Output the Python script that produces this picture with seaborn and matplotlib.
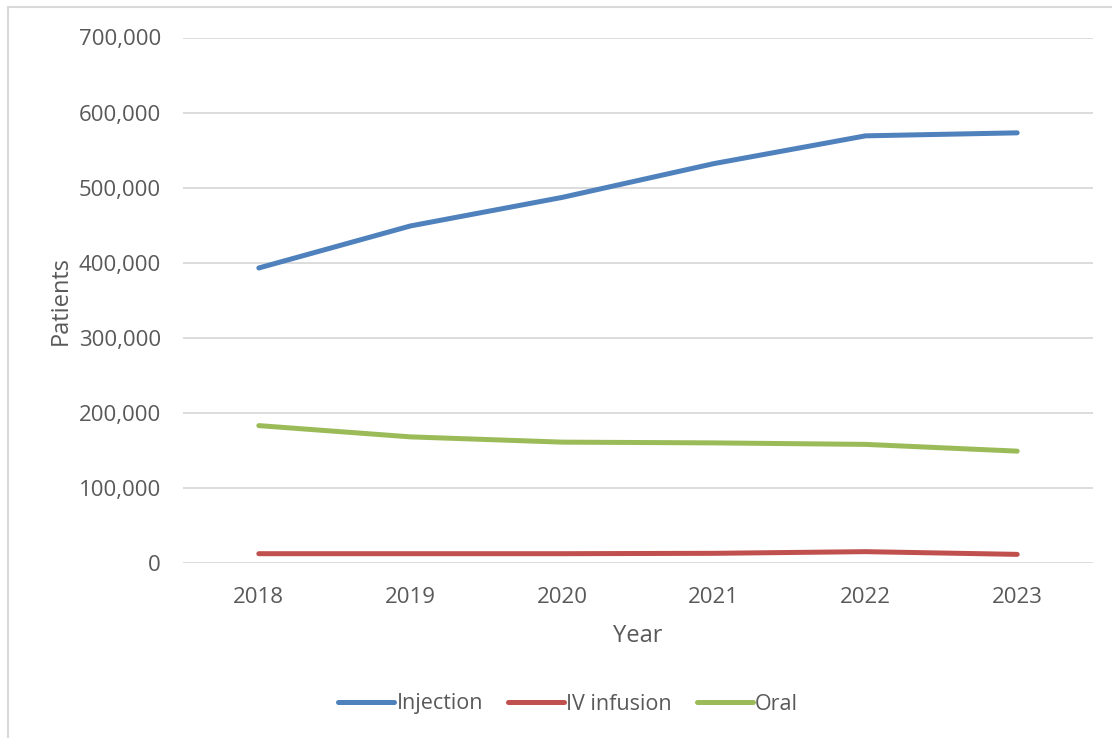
import matplotlib
matplotlib.use("Agg")
import matplotlib.pyplot as plt
import matplotlib.ticker as mticker
from matplotlib.patches import Rectangle
import numpy as np
import pandas as pd
import seaborn as sns

# Patients per year by route of administration
years = ["2018", "2019", "2020", "2021", "2022", "2023"]
injection = [393000, 449000, 487000, 532000, 569000, 573000]
iv_infusion = [12400, 12400, 12400, 12900, 15100, 11500]
oral = [183000, 168000, 161000, 160000, 158000, 149000]

series_names = ["Injection", "IV infusion", "Oral"]
series_colors = ["#4F81BD", "#C0504D", "#9BBB59"]

df = pd.DataFrame({
    "Year": years * 3,
    "Patients": injection + iv_infusion + oral,
    "Route": [n for n in series_names for _ in years],
})
df["pos"] = df["Year"].map({y: i for i, y in enumerate(years)})

sns.set_theme(style="white")
plt.rcParams["font.family"] = ["Open Sans", "DejaVu Sans"]
text_color = "#595959"
grid_color = "#D9D9D9"

W, H = 1112, 738
fig = plt.figure(figsize=(W / 100, H / 100), dpi=100)
ax = fig.add_axes([183 / W, 1 - 563 / H, (1093 - 183) / W, (563 - 37.5) / H])

# chart-area frame
fig.patches.append(Rectangle((8 / W, -0.1), 1.2, 1 - 7 / H + 0.1,
                             transform=fig.transFigure, fill=False,
                             edgecolor=grid_color, linewidth=1.5))

sns.lineplot(data=df, x="pos", y="Patients", hue="Route",
             palette=dict(zip(series_names, series_colors)),
             hue_order=series_names, linewidth=3.6, ax=ax,
             legend=False, solid_capstyle="round")

ax.set_xlim(-0.5, len(years) - 0.5)
ax.set_ylim(0, 700000)
ax.set_xticks(range(len(years)))
ax.set_xticklabels(years)
ax.yaxis.set_major_locator(mticker.MultipleLocator(100000))
ax.yaxis.set_major_formatter(mticker.FuncFormatter(lambda v, p: f"{int(v):,}"))

ax.grid(axis="y", color=grid_color, linewidth=1.3)
ax.set_axisbelow(True)
for s in ax.spines.values():
    s.set_visible(False)
ax.tick_params(axis="both", length=0, labelsize=16, colors=text_color)
ax.tick_params(axis="x", pad=17)
ax.tick_params(axis="y", pad=16)

ax.set_xlabel("Year", fontsize=17, color=text_color, labelpad=12)
ax.set_ylabel("Patients", fontsize=17, color=text_color, labelpad=4)

handles = [plt.Line2D([], [], color=c, linewidth=3.6, solid_capstyle="round")
           for c in series_colors]
fig.legend(handles, series_names, loc="center", bbox_to_anchor=(568 / W, 1 - 704 / H),
           ncol=3, frameon=False, fontsize=15.5, handlelength=2.6, handletextpad=0.12,
           columnspacing=1.15, labelcolor=text_color)

fig.savefig("out.png", dpi=100, facecolor="white")
